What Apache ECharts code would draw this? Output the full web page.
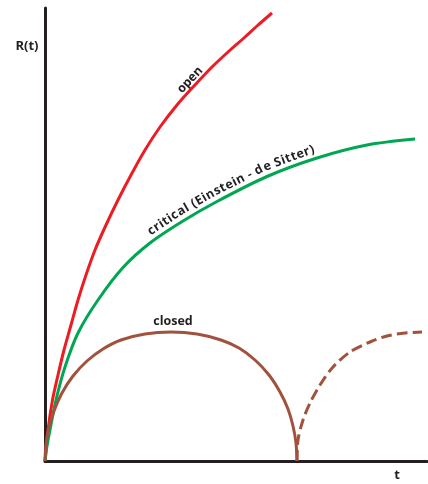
<!DOCTYPE html>
<html>
<head>
<meta charset="utf-8">
<script src="https://cdn.jsdelivr.net/npm/echarts@6/dist/echarts.min.js"></script>
<style>
html,body{margin:0;padding:0;background:#fff;}
#chart{width:428px;height:484px;}
</style>
</head>
<body>
<div id="chart"></div>
<script>
// Values (t, R) in arbitrary units
var openT     = [0, 3, 7.5, 13, 19, 26, 33, 41, 50, 61, 73, 86, 100, 115, 132, 149, 167, 183, 200, 212, 227];
var openR     = [0, 31, 61, 86, 111, 136, 161, 186, 211, 236, 261, 286, 311, 334, 356, 375, 394, 409, 424, 435, 448];
var criticalT = [0, 1, 2, 5, 11, 20, 33, 53, 78, 105, 138, 172, 222, 272, 322, 370];
var criticalR = [0, 8, 15, 31, 61, 94, 128, 161, 193.5, 218, 240, 259.5, 284.5, 303, 316, 322];
var closedT   = [0, 1, 4, 9, 17, 28, 42, 58, 76, 100, 126, 152, 176, 194, 210, 224, 235, 243, 248, 251, 252];
var closedR   = [0, 17, 34, 50, 68, 85, 100, 112, 121, 127, 129, 127, 121, 113, 101, 86, 69, 52, 35, 18, 0];
var nextT     = [252, 253, 258, 265, 275, 288, 305, 325, 342, 360, 377];
var nextR     = [0, 21, 41, 58, 76, 94, 109, 119, 125, 128, 129];
var axisNames = ['R(t)', 't'];
var openLabel = 'open';
var criticalLabel = 'critical (Einstein - de Sitter)';
var closedLabel = 'closed';

function pairs(xs, ys) { return xs.map(function (x, i) { return [x, ys[i]]; }); }

var INK = '#231f20';
var FAMILY = '"Open Sans", Lato, "DejaVu Sans", sans-serif';
var FS = 12;

var chart = echarts.init(document.getElementById('chart'), null, {renderer: 'canvas'});
function lineSeries(name, data, color, dashed) {
  return {
    name: name, type: 'line', data: data, smooth: 0.3, symbol: 'none',
    clip: false,
    lineStyle: {color: color, width: 3, type: dashed ? [11, 5] : 'solid', cap: 'butt'},
    z: 1
  };
}
function label(text, x, y, deg, size) {
  return {
    type: 'text', x: x, y: y, rotation: (deg || 0) * Math.PI / 180,
    style: {text: text, x: 0, y: 0, align: 'center', verticalAlign: 'middle',
            fontFamily: FAMILY, fontWeight: 700, fontSize: size || FS, fill: INK}
  };
}
chart.setOption({
  animation: false,
  backgroundColor: '#fff',
  grid: {left: 45, right: 1, top: 8, bottom: 23, containLabel: false},
  xAxis: {
    type: 'value', min: 0, max: 382,
    axisLine: {show: true, onZero: false, lineStyle: {color: INK, width: 3}},
    axisTick: {show: false}, axisLabel: {show: false}, splitLine: {show: false}
  },
  yAxis: {
    type: 'value', min: 0, max: 453,
    axisLine: {show: true, onZero: false, lineStyle: {color: INK, width: 3}},
    axisTick: {show: false}, axisLabel: {show: false}, splitLine: {show: false}
  },
  series: [
    lineSeries('open', pairs(openT, openR), '#ED1C24', false),
    lineSeries('critical', pairs(criticalT, criticalR), '#00A651', false),
    lineSeries('closed', pairs(closedT, closedR), '#A0523D', false),
    lineSeries('closed next', pairs(nextT, nextR), '#A0523D', true)
  ]
});

// Curved label along the critical curve (characters follow the line)
function textAlongCurve(text, ts, rs, startX, offset, size, spacing) {
  var pts = ts.map(function (t, i) { return chart.convertToPixel({gridIndex: 0}, [t, rs[i]]); });
  var cum = [0];
  for (var i = 1; i < pts.length; i++) {
    cum.push(cum[i - 1] + Math.hypot(pts[i][0] - pts[i - 1][0], pts[i][1] - pts[i - 1][1]));
  }
  function at(s) {
    var k = 1;
    while (k < pts.length - 1 && cum[k] < s) k++;
    var a = pts[k - 1], b = pts[k];
    var seg = cum[k] - cum[k - 1];
    var f = (s - cum[k - 1]) / seg;
    var tx = (b[0] - a[0]) / seg, ty = (b[1] - a[1]) / seg;
    return {x: a[0] + f * (b[0] - a[0]), y: a[1] + f * (b[1] - a[1]), tx: tx, ty: ty};
  }
  var s0 = 0;
  while (s0 < cum[cum.length - 1] && at(s0).x < startX) s0 += 0.5;
  var ctx = document.createElement('canvas').getContext('2d');
  ctx.font = '700 ' + size + 'px ' + FAMILY;
  var els = [];
  var s = s0;
  for (var c = 0; c < text.length; c++) {
    var ch = text[c];
    var w = ctx.measureText(ch).width;
    var p = at(s + w / 2);
    var nx = p.ty, ny = -p.tx; // upward normal
    var ang = Math.atan2(-p.ty, p.tx);
    if (ch !== ' ') {
      els.push({
        type: 'text', x: p.x + nx * offset, y: p.y + ny * offset, rotation: ang,
        style: {text: ch, x: 0, y: 0, align: 'center', verticalAlign: 'middle',
                fontFamily: FAMILY, fontWeight: 700, fontSize: size, fill: INK}
      });
    }
    s += w + spacing;
  }
  return els;
}

var graphics = [
  label(axisNames[0], 27, 46, 0, 13),
  label(axisNames[1], 397, 475, 0, 13),
  label(openLabel, 190, 80, 47, 12.5),
  label(closedLabel, 173, 321, 0, 12.5)
].concat(textAlongCurve(criticalLabel, criticalT, criticalR, 154, 9.5, 12.5, 0.5));

chart.setOption({graphic: graphics});
</script>
</body>
</html>
